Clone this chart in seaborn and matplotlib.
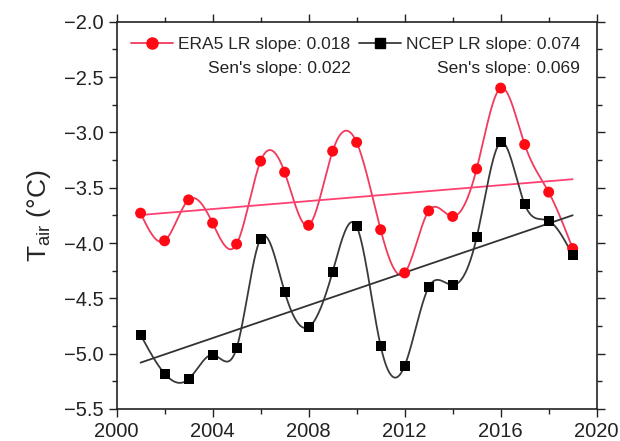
import numpy as np
import pandas as pd
import matplotlib
matplotlib.use("Agg")
import matplotlib.pyplot as plt
from matplotlib.lines import Line2D
from matplotlib.ticker import MultipleLocator
import seaborn as sns

# Annual mean air temperature (°C), 2001-2019
years = [2001, 2002, 2003, 2004, 2005, 2006, 2007, 2008, 2009, 2010,
         2011, 2012, 2013, 2014, 2015, 2016, 2017, 2018, 2019]
era5 = [-3.73, -3.98, -3.61, -3.82, -4.01, -3.26, -3.36, -3.84, -3.17, -3.09,
        -3.88, -4.27, -3.71, -3.76, -3.33, -2.60, -3.11, -3.54, -4.05]
ncep = [-4.83, -5.18, -5.23, -5.01, -4.95, -3.96, -4.44, -4.76, -4.26, -3.85,
        -4.93, -5.11, -4.40, -4.38, -3.95, -3.09, -3.65, -3.80, -4.11]

series_names = ["ERA5", "NCEP"]
lr_slopes = ["0.018", "0.074"]
sen_slopes = ["0.022", "0.069"]

ERA_MARK = "#ff0a14"
ERA_LINE = "#f23a5c"
ERA_TREND = "#ff4070"
NCEP_MARK = "#000000"
NCEP_LINE = "#3a3a3a"
NCEP_TREND = "#333333"


def natural_spline(x, y, xs):
    """Natural cubic spline through (x, y), evaluated at xs."""
    x = np.asarray(x, float)
    y = np.asarray(y, float)
    n = len(x)
    h = np.diff(x)
    A = np.zeros((n, n))
    b = np.zeros(n)
    A[0, 0] = A[-1, -1] = 1.0
    for i in range(1, n - 1):
        A[i, i - 1] = h[i - 1]
        A[i, i] = 2 * (h[i - 1] + h[i])
        A[i, i + 1] = h[i]
        b[i] = 6 * ((y[i + 1] - y[i]) / h[i] - (y[i] - y[i - 1]) / h[i - 1])
    M = np.linalg.solve(A, b)
    idx = np.clip(np.searchsorted(x, xs) - 1, 0, n - 2)
    x0, x1 = x[idx], x[idx + 1]
    hi = x1 - x0
    t0, t1 = x1 - xs, xs - x0
    return (M[idx] * t0 ** 3 / (6 * hi) + M[idx + 1] * t1 ** 3 / (6 * hi)
            + (y[idx] / hi - M[idx] * hi / 6) * t0
            + (y[idx + 1] / hi - M[idx + 1] * hi / 6) * t1)


df = pd.DataFrame({"year": years, "ERA5": era5, "NCEP": ncep})
xs = np.linspace(years[0], years[-1], 600)
smooth = pd.DataFrame({"year": xs,
                       "ERA5": natural_spline(years, era5, xs),
                       "NCEP": natural_spline(years, ncep, xs)})

sns.set_theme(style="ticks")
plt.rcParams["font.family"] = ["Liberation Sans", "DejaVu Sans"]
plt.rcParams["mathtext.fontset"] = "custom"
plt.rcParams["mathtext.rm"] = "Liberation Sans"
plt.rcParams["mathtext.it"] = "Liberation Sans:italic"

fig = plt.figure(figsize=(6.2, 4.41), dpi=100)
ax = fig.add_axes([0.188, 0.0726, 0.7744, 0.8782])

styles = {
    "ERA5": dict(line=ERA_LINE, mark=ERA_MARK, trend=ERA_TREND, marker="o", s=62),
    "NCEP": dict(line=NCEP_LINE, mark=NCEP_MARK, trend=NCEP_TREND, marker="s", s=52),
}

for name in series_names:
    st = styles[name]
    sns.lineplot(data=smooth, x="year", y=name, ax=ax, color=st["line"],
                 lw=1.3, legend=False, zorder=2)
    sns.regplot(data=df, x="year", y=name, ax=ax, scatter=False, ci=None,
                truncate=True, line_kws=dict(color=st["trend"], lw=1.3, zorder=2))
    sns.scatterplot(data=df, x="year", y=name, ax=ax, color=st["mark"],
                    marker=st["marker"], s=st["s"], edgecolor="none",
                    legend=False, zorder=3)

ax.set_xlim(2000, 2020)
ax.set_ylim(-5.5, -2.0)
ax.xaxis.set_major_locator(MultipleLocator(4))
ax.xaxis.set_minor_locator(MultipleLocator(2))
ax.yaxis.set_major_locator(MultipleLocator(0.5))
ax.yaxis.set_minor_locator(MultipleLocator(0.25))
ax.yaxis.set_major_formatter(plt.FuncFormatter(lambda v, p: f"{v:.1f}".replace("-", "\u2212")))
ax.tick_params(which="both", direction="out", top=True, right=True,
               labeltop=False, labelright=False, width=1.0, color="#222222")
ax.tick_params(which="major", length=6, labelsize=14.5, colors="#222222")
ax.tick_params(which="minor", length=3.5)
for sp in ax.spines.values():
    sp.set_visible(True)
    sp.set_linewidth(1.2)
    sp.set_color("#222222")

ax.set_xlabel("")
ax.set_ylabel(r"$\mathregular{T_{air}}$ (°C)", fontsize=19, labelpad=8)

handles = [
    Line2D([], [], color=ERA_LINE, lw=1.3, marker="o", markersize=8,
           markerfacecolor=ERA_MARK, markeredgecolor=ERA_MARK),
    Line2D([], [], color=NCEP_LINE, lw=1.3, marker="s", markersize=6.5,
           markerfacecolor=NCEP_MARK, markeredgecolor=NCEP_MARK),
]
labels = [f"{n} LR slope: {s}" for n, s in zip(series_names, lr_slopes)]
leg = ax.legend(handles, labels, loc="upper left", bbox_to_anchor=(0.0, 1.0),
                ncol=2, frameon=False, fontsize=12.5, handlelength=2.4,
                handletextpad=0.3, columnspacing=0.5, borderaxespad=0.55,
                borderpad=0.3)
# Second line of each legend entry, right-aligned under the LR label
for txt, sen in zip(leg.get_texts(), sen_slopes):
    ax.annotate(f"Sen's slope: {sen}", xy=(1.0, 0.0), xycoords=txt,
                xytext=(0, -6.5), textcoords="offset points",
                ha="right", va="top", fontsize=12.5, color="#222222",
                zorder=10)

fig.savefig("out.png", dpi=100)
